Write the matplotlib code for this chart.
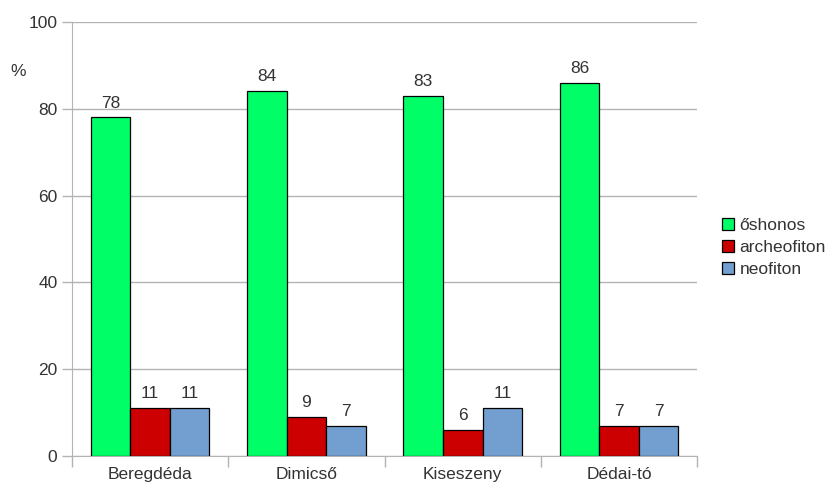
import matplotlib
matplotlib.use("Agg")
from matplotlib import pyplot as plt
import numpy as np

sites = ['Beregdéda', 'Dimicső', 'Kiseszeny', 'Dédai-tó']
series_names = ['őshonos', 'archeofiton', 'neofiton']
oshonos = [78, 84, 83, 86]
archeofiton = [11, 9, 6, 7]
neofiton = [11, 7, 11, 7]
colors = ['#00ff66', '#cc0000', '#729fcf']

plt.rcParams['font.family'] = ['Liberation Sans', 'DejaVu Sans']
txt = '#333333'
grid = '#b3b3b3'
fs = 12.5

fig = plt.figure(figsize=(8.37, 4.9), dpi=100)
ax = fig.add_axes([0.086, 0.0694, 0.747, 0.8857])

x = np.arange(len(sites))
w = 0.253
for i, (vals, name) in enumerate(zip([oshonos, archeofiton, neofiton], series_names)):
    pos = x + (i - 1) * w
    ax.bar(pos, vals, w, color=colors[i], edgecolor='black', linewidth=0.9,
           label=name, zorder=3)
    for p, v in zip(pos, vals):
        ax.text(p, v + 1.6, str(v), ha='center', va='bottom', fontsize=fs, color=txt)

ax.set_xlim(-0.5, 3.5)
ax.set_ylim(0, 100)
ax.set_yticks(range(0, 101, 20))
ax.yaxis.grid(True, color=grid, linewidth=1, zorder=0)
ax.set_xticks(x)
ax.set_xticklabels(sites)
ax.set_xticks(np.arange(-0.5, 4, 1), minor=True)
ax.tick_params(axis='x', which='major', length=0, pad=8, labelsize=fs, labelcolor=txt)
ax.tick_params(axis='x', which='minor', length=8, color=grid, width=1)
ax.tick_params(axis='y', length=7, color=grid, width=1, labelsize=fs, labelcolor=txt)
for s in ['top', 'right']:
    ax.spines[s].set_visible(False)
for s in ['left', 'bottom']:
    ax.spines[s].set_color(grid)

fig.text(18 / 837, 1 - 71 / 490, '%', fontsize=fs, color=txt, ha='center', va='center')

ax.legend(loc='center left', bbox_to_anchor=(1.015, 0.48), frameon=False, fontsize=fs,
          handlelength=0.7, handleheight=0.7, handletextpad=0.3, labelspacing=0.4,
          labelcolor=txt)

fig.savefig('out.png', dpi=100)
